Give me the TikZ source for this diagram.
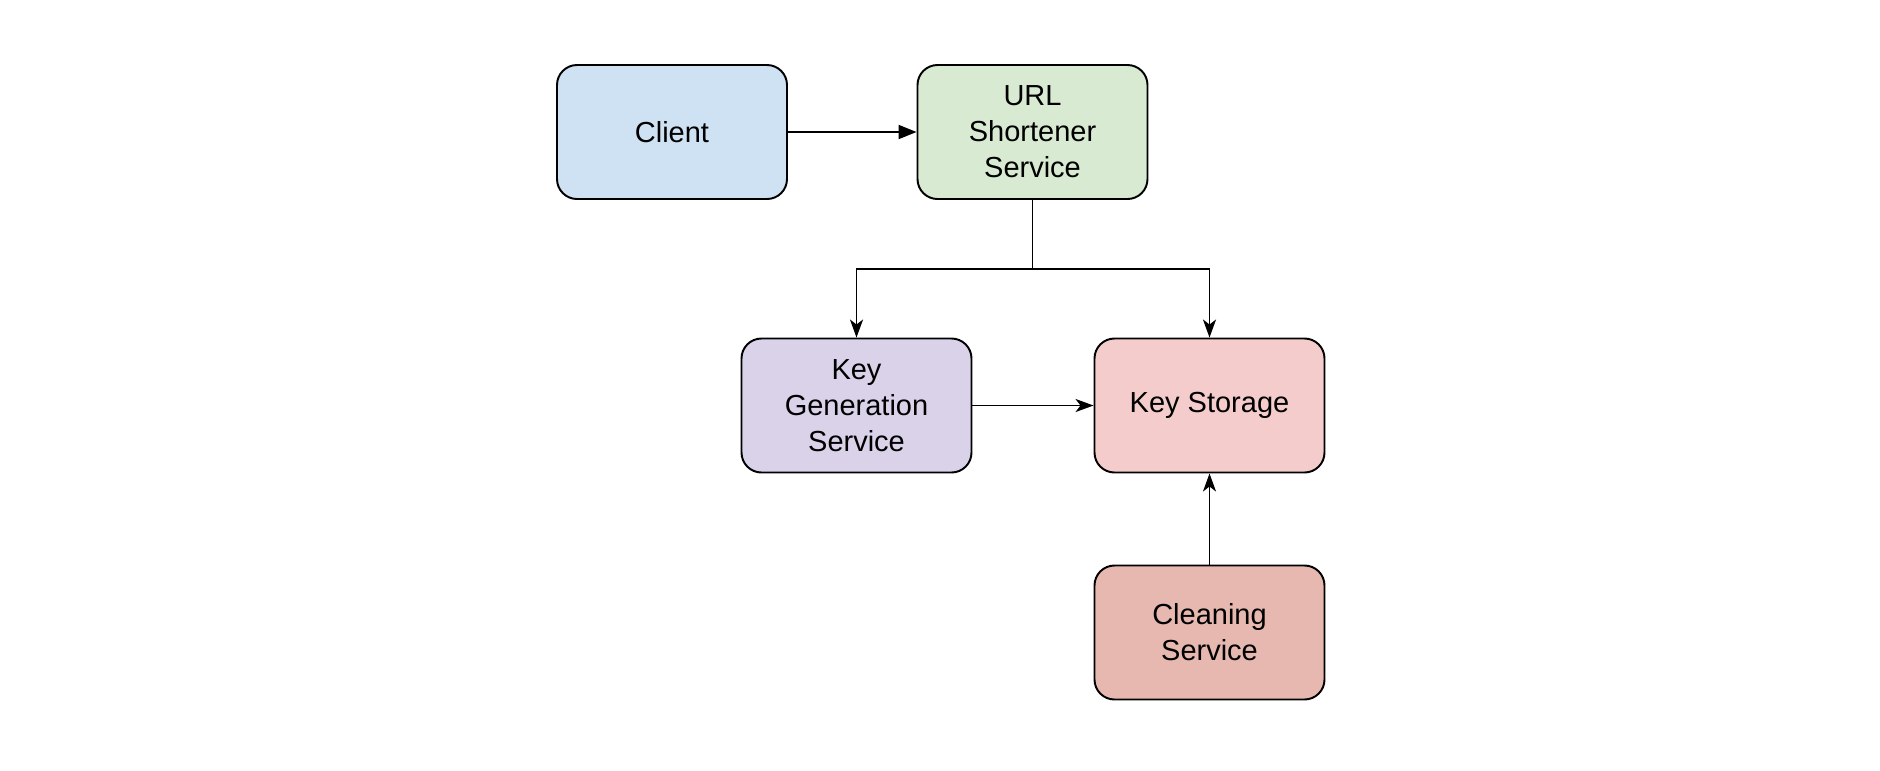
\documentclass[tikz,border=0pt]{standalone}
\usepackage{fontspec}
\setmainfont{Liberation Sans}
\usepackage{tikz}
\usetikzlibrary{arrows.meta, positioning}
\usepackage{xcolor}
\definecolor{clientblue}{HTML}{CFE2F3}
\definecolor{urlgreen}{HTML}{D9EAD3}
\definecolor{keygenpurple}{HTML}{D9D2E9}
\definecolor{storagepink}{HTML}{F4CCCC}
\definecolor{cleanred}{HTML}{E6B8AF}

\begin{document}
\begin{tikzpicture}[line width=1.1pt,
  every node/.style={draw, rounded corners=0.4cm, minimum width=4.6cm, minimum height=2.68cm, align=center, font=\fontsize{16.5}{20.5}\selectfont},
  flow/.style={-{Stealth[length=0.36cm, width=0.26cm, inset=0.1cm]}},
  push/.style={-{Triangle[length=0.36cm, width=0.28cm]}}]
\useasboundingbox (0,0) rectangle (37.6,-15.4);
\node[fill=clientblue] (client) at (13.44,-2.64) {Client};
\node[fill=urlgreen] (url) at (20.65,-2.64) {URL\\Shortener\\Service};
\node[fill=keygenpurple] (keygen) at (17.13,-8.11) {Key\\Generation\\Service};
\node[fill=storagepink] (storage) at (24.19,-8.11) {Key Storage};
\node[fill=cleanred] (cleaning) at (24.19,-12.65) {Cleaning\\Service};
\coordinate (split) at (20.65,-5.38);
\draw[push] (client) -- (url);
\draw (url) -- (split);
\draw[flow] (split) -| (keygen);
\draw[flow] (split) -| (storage);
\draw[flow] (keygen) -- (storage);
\draw[flow] (cleaning) -- (storage);
\end{tikzpicture}
\end{document}
